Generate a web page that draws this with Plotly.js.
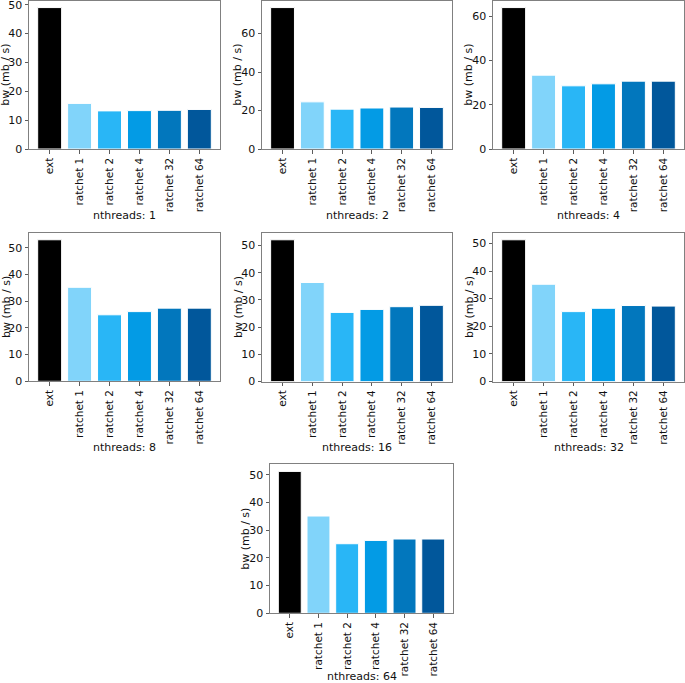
<!DOCTYPE html>
<html>
<head>
<meta charset="utf-8">
<script src="https://cdn.plot.ly/plotly-3.0.1.min.js"></script>
<style>html,body{margin:0;padding:0;background:#fff;}#chart{width:685px;height:683px;}</style>
</head>
<body>
<div id="chart"></div>
<script>
// Categories (x tick labels)
const categories = ["ext", "ratchet 1", "ratchet 2", "ratchet 4", "ratchet 32", "ratchet 64"];
// Subplot titles (nthreads)
const nthreads = [1, 2, 4, 8, 16, 32, 64];
// Bandwidth values (mb / s) per nthreads panel
const bw_n1  = [49.0, 15.8, 13.2, 13.3, 13.4, 13.7];
const bw_n2  = [73.5, 24.5, 20.7, 21.3, 21.8, 21.6];
const bw_n4  = [63.8, 33.3, 28.5, 29.4, 30.6, 30.6];
const bw_n8  = [53.0, 35.2, 24.9, 26.1, 27.4, 27.4];
const bw_n16 = [52.1, 36.4, 25.4, 26.5, 27.5, 28.0];
const bw_n32 = [51.3, 35.2, 25.3, 26.5, 27.5, 27.3];
const bw_n64 = [51.2, 35.1, 25.1, 26.3, 26.8, 26.8];
const series = [bw_n1, bw_n2, bw_n4, bw_n8, bw_n16, bw_n32, bw_n64];
const dticks = [10, 20, 20, 10, 10, 10, 10];
const yTitle = "bw (mb / s)";

const colors = ["#000000", "#81d4fa", "#29b6f6", "#039be5", "#0277bd", "#01579b"];

const W = 685, H = 683;
// plot area boxes in pixels: [left, right, top, bottom]
const boxes = [
  [29, 220, 0.5, 149],
  [262, 452, 0.5, 149],
  [493, 684, 0.5, 149],
  [29, 220, 232.7, 381.3],
  [262, 452, 232.7, 381.5],
  [493, 684, 232.7, 381.5],
  [270, 453, 464.3, 613.3]
];

const xTickFont = {family: "DejaVu Sans, sans-serif", size: 10.5, color: "#111"};
const yTickFont = {family: "DejaVu Sans, sans-serif", size: 11, color: "#111"};
const titleFont = {family: "DejaVu Sans, sans-serif", size: 11, color: "#111"};
const traces = [];
const annotations = [];
const layout = {
  width: W, height: H,
  margin: {l: 0, r: 0, t: 0, b: 0},
  paper_bgcolor: "#fff", plot_bgcolor: "#fff",
  showlegend: false,
  font: titleFont,
  annotations: annotations
};

series.forEach((vals, i) => {
  const n = i + 1;
  const xa = n === 1 ? "x" : "x" + n;
  const ya = n === 1 ? "y" : "y" + n;
  traces.push({
    type: "bar",
    x: [0, 1, 2, 3, 4, 5],
    y: vals,
    width: 0.8,
    xaxis: xa, yaxis: ya,
    marker: {color: colors, line: {color: "#ffffff", width: 1}},
    hoverinfo: "skip"
  });
  const b = boxes[i];
  const ymax = Math.max(...vals) * 1.05;
  layout["xaxis" + (n === 1 ? "" : n)] = {
    domain: [b[0] / W, b[1] / W],
    anchor: ya,
    range: [-0.69, 5.69],
    tickmode: "array",
    tickvals: [0, 1, 2, 3, 4, 5],
    ticktext: categories,
    tickangle: -90,
    ticks: "outside", ticklen: 3.5, tickcolor: "#333", tickwidth: 0.8,
    showline: true, linecolor: "#808080", linewidth: 1, mirror: true,
    showgrid: false, zeroline: false,
    tickfont: xTickFont,
    ticklabeloverflow: "allow",
    fixedrange: true
  };
  layout["yaxis" + (n === 1 ? "" : n)] = {
    domain: [1 - b[3] / H, 1 - b[2] / H],
    anchor: xa,
    range: [0, ymax],
    dtick: dticks[i], tick0: 0,
    ticks: "outside", ticklen: 3.5, tickcolor: "#333", tickwidth: 0.8,
    showline: true, linecolor: "#808080", linewidth: 1, mirror: true,
    showgrid: false, zeroline: false,
    tickfont: yTickFont,
    ticklabeloverflow: "allow",
    fixedrange: true
  };
  // x-axis title
  const xtY = Math.min(b[3] + 66, H - 6.5);
  annotations.push({
    xref: "paper", yref: "paper",
    x: ((b[0] + b[1]) / 2) / W,
    y: 1 - xtY / H,
    xanchor: "center", yanchor: "middle",
    text: "nthreads: " + nthreads[i],
    showarrow: false, font: titleFont
  });
  // y-axis title
  annotations.push({
    xref: "paper", yref: "paper",
    x: Math.max(b[0] - 24, 6) / W,
    y: 1 - ((b[2] + b[3]) / 2) / H,
    xanchor: "center", yanchor: "middle",
    textangle: -90,
    text: yTitle,
    showarrow: false, font: titleFont
  });
});

Plotly.newPlot("chart", traces, layout, {staticPlot: true});
</script>
</body>
</html>
